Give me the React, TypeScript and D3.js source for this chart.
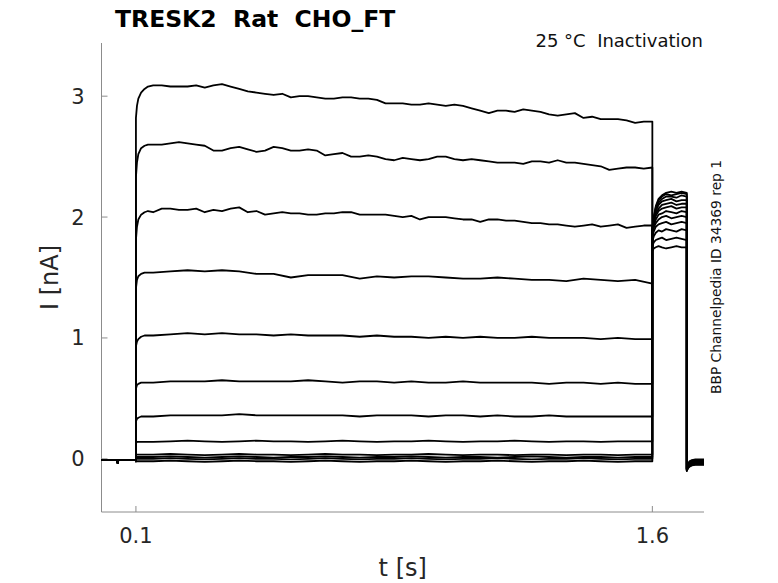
import React from 'react';
import * as d3 from 'd3';

// time grids (s)
const holdT = [0, 0.045, 0.047, 0.049, 0.1];
const riseT = [0.1, 0.103, 0.107, 0.115, 0.125, 0.135];
const fineT = d3.range(0, 59).map(i => +(0.15 + i * 0.025).toFixed(3));
const coarseT = d3.range(0, 30).map(i => +(0.15 + i * 0.05).toFixed(3));
const testT = [1.6, 1.604, 1.61, 1.618, 1.628, 1.64, 1.655, 1.67, 1.685, 1.7];
const tailT = [1.7, 1.703, 1.708, 1.715, 1.725, 1.74, 1.75];

// holding current before the step (nA)
const holdI = [-0.01, -0.01, -0.035, -0.01, -0.01];

// onset of each sweep, largest first
const riseI = [
  [2.82, 2.92, 2.98, 3.03, 3.06, 3.08],
  [2.33, 2.45, 2.52, 2.57, 2.59, 2.6],
  [1.81, 1.92, 1.98, 2.02, 2.04, 2.05],
  [1.41, 1.48, 1.51, 1.53, 1.54, 1.54],
  [0.93, 0.97, 0.99, 1.01, 1.02, 1.02],
  [0.58, 0.61, 0.62, 0.63, 0.63, 0.63],
  [0.31, 0.33, 0.34, 0.35, 0.35, 0.35],
  [0.13, 0.14, 0.14, 0.14, 0.14, 0.14],
  [0.03, 0.035, 0.035, 0.035, 0.035, 0.035],
  [0.01, 0.015, 0.015, 0.015, 0.015, 0.015],
  [-0.005, 0, 0, 0, 0, 0],
  [-0.025, -0.02, -0.02, -0.02, -0.02, -0.02],
];

// prepulse, fine grid
const sweep1 = [
  3.09, 3.09, 3.08, 3.08, 3.08, 3.09, 3.07, 3.09, 3.1, 3.08, 3.06, 3.04, 3.03, 3.02, 3.01,
  3.02, 2.99, 3.0, 3.0, 2.99, 2.98, 2.98, 2.99, 2.99, 2.98, 2.98, 2.97, 2.94, 2.94, 2.94,
  2.93, 2.93, 2.94, 2.93, 2.92, 2.93, 2.92, 2.9, 2.88, 2.86, 2.88, 2.88, 2.87, 2.89, 2.88,
  2.87, 2.85, 2.84, 2.85, 2.86, 2.82, 2.83, 2.81, 2.81, 2.81, 2.8, 2.78, 2.79, 2.79,
];
const sweep2 = [
  2.6, 2.6, 2.61, 2.62, 2.61, 2.6, 2.59, 2.55, 2.55, 2.57, 2.58, 2.56, 2.54, 2.55, 2.58,
  2.57, 2.55, 2.55, 2.56, 2.55, 2.51, 2.52, 2.53, 2.5, 2.5, 2.51, 2.5, 2.48, 2.47, 2.49,
  2.48, 2.47, 2.48, 2.5, 2.5, 2.48, 2.47, 2.48, 2.47, 2.46, 2.45, 2.45, 2.45, 2.44, 2.46,
  2.46, 2.45, 2.47, 2.45, 2.45, 2.44, 2.43, 2.42, 2.39, 2.4, 2.41, 2.41, 2.4, 2.41,
];
const sweep3 = [
  2.04, 2.07, 2.07, 2.06, 2.06, 2.07, 2.04, 2.06, 2.05, 2.07, 2.08, 2.04, 2.05, 2.02, 2.03,
  2.04, 2.03, 2.03, 2.02, 2.02, 2.03, 2.03, 2.04, 2.04, 2.02, 2.02, 2.02, 2.02, 2.01, 2.0,
  2.01, 1.98, 2.0, 2.0, 2.0, 1.99, 1.98, 1.98, 1.96, 1.98, 1.98, 1.97, 1.97, 1.96, 1.95,
  1.95, 1.94, 1.94, 1.93, 1.92, 1.93, 1.94, 1.92, 1.93, 1.94, 1.91, 1.92, 1.93, 1.93,
];
// prepulse, coarse grid
const sweep4 = [
  1.54, 1.55, 1.56, 1.55, 1.56, 1.55, 1.53, 1.53, 1.5, 1.52, 1.52, 1.52, 1.49, 1.51, 1.5,
  1.51, 1.51, 1.5, 1.49, 1.49, 1.5, 1.49, 1.48, 1.48, 1.47, 1.49, 1.48, 1.47, 1.48, 1.45,
];
const sweep5 = [
  1.02, 1.03, 1.04, 1.03, 1.04, 1.03, 1.03, 1.02, 1.03, 1.02, 1.02, 1.02, 1.01, 1.02, 1.01,
  1.01, 1.0, 1.01, 1.0, 1.01, 1.0, 1.0, 1.01, 1.0, 1.0, 1.0, 0.99, 1.0, 0.99, 0.99,
];
const sweep6 = [
  0.63, 0.64, 0.64, 0.64, 0.65, 0.64, 0.64, 0.64, 0.64, 0.65, 0.64, 0.63, 0.64, 0.64, 0.63,
  0.64, 0.63, 0.63, 0.64, 0.63, 0.63, 0.63, 0.63, 0.62, 0.63, 0.63, 0.62, 0.63, 0.62, 0.62,
];
const sweep7 = [
  0.35, 0.36, 0.36, 0.36, 0.36, 0.37, 0.36, 0.36, 0.36, 0.36, 0.36, 0.36, 0.35, 0.36, 0.36,
  0.36, 0.35, 0.36, 0.36, 0.35, 0.36, 0.35, 0.35, 0.36, 0.35, 0.35, 0.35, 0.35, 0.35, 0.35,
];
const sweep8 = [
  0.14, 0.145, 0.15, 0.145, 0.14, 0.145, 0.15, 0.145, 0.145, 0.14, 0.145, 0.15, 0.145, 0.14, 0.145,
  0.145, 0.15, 0.145, 0.14, 0.145, 0.145, 0.15, 0.145, 0.14, 0.145, 0.145, 0.14, 0.145, 0.145, 0.145,
];
const sweep9 = [
  0.035, 0.04, 0.035, 0.03, 0.035, 0.04, 0.035, 0.035, 0.03, 0.035, 0.04, 0.035, 0.035, 0.03, 0.035,
  0.035, 0.04, 0.035, 0.03, 0.035, 0.035, 0.03, 0.035, 0.035, 0.03, 0.035, 0.035, 0.03, 0.035, 0.035,
];
const sweep10 = [
  0.015, 0.02, 0.015, 0.01, 0.015, 0.02, 0.015, 0.01, 0.015, 0.015, 0.02, 0.015, 0.01, 0.015, 0.015,
  0.02, 0.015, 0.01, 0.015, 0.015, 0.01, 0.015, 0.02, 0.015, 0.01, 0.015, 0.015, 0.01, 0.015, 0.015,
];
const sweep11 = [
  0, 0.005, 0, -0.005, 0, 0.005, 0, 0, -0.005, 0, 0.005, 0, -0.005, 0, 0,
  0.005, 0, -0.005, 0, 0, 0.005, 0, -0.005, 0, 0, 0.005, 0, -0.005, 0, 0,
];
const sweep12 = [
  -0.02, -0.015, -0.02, -0.025, -0.02, -0.015, -0.02, -0.02, -0.025, -0.02, -0.015, -0.02, -0.025, -0.02, -0.02,
  -0.015, -0.02, -0.025, -0.02, -0.02, -0.015, -0.02, -0.025, -0.02, -0.02, -0.015, -0.02, -0.025, -0.02, -0.02,
];
const prepulseI = [sweep1, sweep2, sweep3, sweep4, sweep5, sweep6, sweep7, sweep8, sweep9, sweep10, sweep11, sweep12];

// test pulse 1.6-1.7 s
const testI = [
  [1.72, 1.74, 1.75, 1.76, 1.75, 1.74, 1.75, 1.76, 1.75, 1.75],
  [1.76, 1.79, 1.81, 1.82, 1.83, 1.81, 1.82, 1.83, 1.82, 1.81],
  [1.8, 1.84, 1.87, 1.89, 1.88, 1.9, 1.89, 1.88, 1.9, 1.89],
  [1.83, 1.88, 1.92, 1.94, 1.95, 1.96, 1.94, 1.95, 1.96, 1.95],
  [1.85, 1.91, 1.95, 1.98, 2.0, 2.01, 1.99, 2.0, 2.01, 2.0],
  [1.86, 1.93, 1.98, 2.02, 2.03, 2.05, 2.04, 2.03, 2.05, 2.04],
  [1.87, 1.95, 2.01, 2.05, 2.07, 2.08, 2.09, 2.07, 2.08, 2.08],
  [1.88, 1.96, 2.03, 2.07, 2.1, 2.11, 2.12, 2.1, 2.11, 2.11],
  [1.88, 1.97, 2.05, 2.1, 2.13, 2.14, 2.15, 2.13, 2.14, 2.14],
  [1.89, 1.98, 2.07, 2.12, 2.15, 2.17, 2.17, 2.16, 2.18, 2.17],
  [1.89, 1.99, 2.08, 2.14, 2.17, 2.19, 2.18, 2.19, 2.2, 2.19],
  [1.9, 2.0, 2.09, 2.15, 2.18, 2.2, 2.21, 2.2, 2.21, 2.2],
];

// return to holding after 1.7 s
const tailI = [
  [-0.1, -0.08, -0.065, -0.055, -0.05, -0.05, -0.05],
  [-0.1, -0.08, -0.06, -0.05, -0.045, -0.045, -0.045],
  [-0.095, -0.075, -0.055, -0.045, -0.04, -0.04, -0.04],
  [-0.095, -0.07, -0.05, -0.04, -0.035, -0.035, -0.035],
  [-0.09, -0.07, -0.05, -0.035, -0.03, -0.03, -0.03],
  [-0.09, -0.065, -0.045, -0.035, -0.03, -0.03, -0.03],
  [-0.09, -0.06, -0.04, -0.03, -0.025, -0.025, -0.025],
  [-0.085, -0.06, -0.04, -0.025, -0.02, -0.02, -0.02],
  [-0.085, -0.055, -0.035, -0.025, -0.02, -0.02, -0.02],
  [-0.08, -0.05, -0.03, -0.02, -0.015, -0.015, -0.015],
  [-0.08, -0.05, -0.025, -0.015, -0.01, -0.01, -0.01],
  [-0.08, -0.045, -0.02, -0.01, -0.005, -0.005, -0.005],
];

const yTicks = [0, 1, 2, 3];
const xTicks = [0.1, 1.6];

const font = "'DejaVu Sans', sans-serif";
const spine = '#8c8c8c';
const tickText = '#262626';

export default function App() {
  const x = d3.scaleLinear().domain([0, 1.75]).range([101.5, 704]);
  const y = d3.scaleLinear().domain([-0.44, 3.44]).range([512, 43]);
  const line = d3
    .line<[number, number]>()
    .x(d => x(d[0]))
    .y(d => y(d[1]));

  const zip = (ts: number[], vs: number[]) => vs.map((v, i) => [ts[i], v] as [number, number]);

  const sweeps = prepulseI.map((pre, k) => {
    const preT = pre.length === fineT.length ? fineT : coarseT;
    return [
      ...zip(holdT, holdI),
      ...zip(riseT, riseI[k]),
      ...zip(preT, pre),
      ...zip(testT, testI[k]),
      ...zip(tailT, tailI[k]),
    ];
  });

  return (
    <svg
      width={778}
      height={583}
      style={{ position: 'absolute', left: 0, top: 0, background: '#fff' }}
      fontFamily={font}
    >
      <rect width={778} height={583} fill="#fff" />
      <text x={115} y={27} fontSize={23.5} fontWeight="bold" fill="#000">
        TRESK2{'\u00a0\u00a0'}Rat{'\u00a0\u00a0'}CHO_FT
      </text>
      <text x={703} y={47} fontSize={18} textAnchor="end" fill="#111">
        25 °C{'\u00a0\u00a0'}Inactivation
      </text>
      <text
        transform="translate(721,277) rotate(-90)"
        fontSize={13.8}
        textAnchor="middle"
        fill="#111"
      >
        BBP Channelpedia ID 34369 rep 1
      </text>

      {/* spines */}
      <line x1={x(0)} x2={x(0)} y1={y(3.44)} y2={y(-0.44)} stroke={spine} strokeWidth={1} />
      <line x1={x(0)} x2={x(1.75)} y1={y(-0.44)} y2={y(-0.44)} stroke={spine} strokeWidth={1} />

      {yTicks.map(t => (
        <g key={'y' + t}>
          <line x1={x(0)} x2={x(0) + 6} y1={y(t)} y2={y(t)} stroke={spine} />
          <text
            x={x(0) - 17}
            y={y(t)}
            dy="0.36em"
            fontSize={21}
            textAnchor="end"
            fill={tickText}
          >
            {t}
          </text>
        </g>
      ))}
      {xTicks.map(t => (
        <g key={'x' + t}>
          <line x1={x(t)} x2={x(t)} y1={y(-0.44)} y2={y(-0.44) - 6} stroke={spine} />
          <text x={x(t)} y={543} fontSize={21} textAnchor="middle" fill={tickText}>
            {t}
          </text>
        </g>
      ))}

      <text x={402.75} y={576} fontSize={24} textAnchor="middle" fill={tickText}>
        t [s]
      </text>
      <text
        transform="translate(58,277.5) rotate(-90)"
        fontSize={24}
        textAnchor="middle"
        fill={tickText}
      >
        I [nA]
      </text>

      <g fill="none" stroke="#000" strokeWidth={1.8} strokeLinejoin="round">
        {sweeps.map((pts, i) => (
          <path key={i} d={line(pts) ?? ''} />
        ))}
      </g>
    </svg>
  );
}
